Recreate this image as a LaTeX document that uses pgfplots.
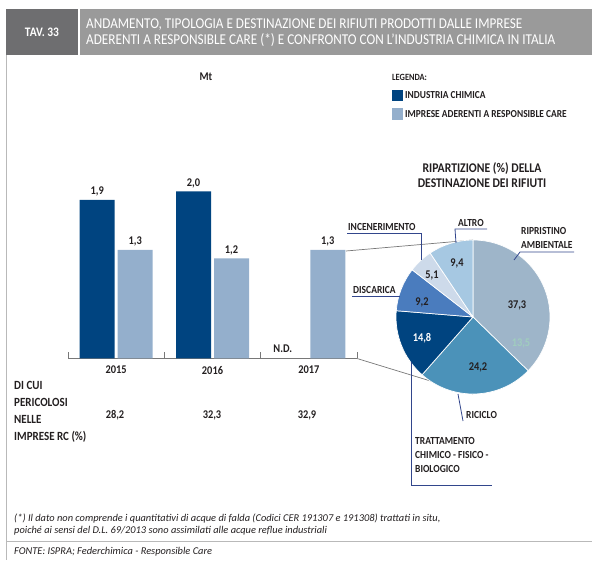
\documentclass[border=0pt]{standalone}
\usepackage{fontspec}
\setmainfont{Carlito}[FakeStretch=0.88]
\newfontfamily\fnfont{Carlito}
\usepackage{pgfplots}
\pgfplotsset{compat=1.18}
\definecolor{navy}{RGB}{0,68,128}
\definecolor{lightb}{RGB}{148,175,204}
\definecolor{txt}{RGB}{35,31,32}
\definecolor{axisgray}{RGB}{120,120,120}
\definecolor{tavgray}{RGB}{110,110,112}
\definecolor{titgray}{RGB}{154,154,154}
\definecolor{framegray}{RGB}{185,185,185}
\definecolor{lead}{RGB}{50,70,140}
\definecolor{cRip}{RGB}{158,181,201}
\definecolor{cRic}{RGB}{75,146,185}
\definecolor{cTra}{RGB}{0,68,128}
\definecolor{cDis}{RGB}{74,124,190}
\definecolor{cInc}{RGB}{205,218,234}
\definecolor{cAlt}{RGB}{166,200,226}
\newcommand\lab{\fontsize{10.8}{12.5}\selectfont\bfseries}
\newcommand\labb{\fontsize{11.8}{13}\selectfont\bfseries}
\newcommand\slice[3]{\fill[#1,draw=white,line width=0.7pt] (axis cs:0,0) -- ++({90-3.6*(#2)}:77pt) arc[start angle={90-3.6*(#2)}, delta angle={-3.6*(#3)}, radius=77pt] -- cycle;}
\begin{document}
\begin{tikzpicture}[x=1pt,y=1pt]
\path[use as bounding box] (0,0) rectangle (592,560);
\begin{scope}[shift={(0,560)}, yscale=-1]
% header
\fill[tavgray] (6,9) rectangle (78,55);
\fill[titgray] (80,9) rectangle (592,55);
\node[white, font=\fontsize{13}{15}\selectfont\bfseries] at (42,32) {TAV. 33};
\node[white, anchor=west, align=left, font=\fontsize{15}{16}\selectfont, inner sep=0pt] at (86,33) {ANDAMENTO, TIPOLOGIA E DESTINAZIONE DEI RIFIUTI PRODOTTI DALLE IMPRESE\\ADERENTI A RESPONSIBLE CARE (*) E CONFRONTO CON L'INDUSTRIA CHIMICA IN ITALIA};
% frame
\draw[framegray, line width=0.8pt] (6,55) -- (6,560);
\draw[framegray, line width=0.8pt] (6,541) -- (592,541);
% Mt
\node[txt, font=\labb] at (206,77) {Mt};
% legend
\node[txt, anchor=west, font=\fontsize{9.5}{10}\selectfont\bfseries, inner sep=0pt] at (392,77) {LEGENDA:};
\fill[navy] (392,90) rectangle (403,101);
\fill[lightb] (392,108) rectangle (403,120);
\node[txt, anchor=west, font=\fontsize{10.7}{11}\selectfont\bfseries, inner sep=0pt] at (405,95.5) {INDUSTRIA CHIMICA};
\node[txt, anchor=west, font=\fontsize{10.7}{11}\selectfont\bfseries, inner sep=0pt] at (405,114) {IMPRESE ADERENTI A RESPONSIBLE CARE};
% pie title
\node[txt, align=center, font=\fontsize{13.3}{15}\selectfont\bfseries] at (482,175.5) {RIPARTIZIONE (\%) DELLA\\DESTINAZIONE DEI RIFIUTI};
% connectors
\draw[axisgray, line width=0.7pt] (346,251) -- (473,240);
\draw[axisgray, line width=0.7pt] (357,358.5) -- (473,394);
% bottom table
\node[txt, anchor=west, align=left, font=\fontsize{12.5}{17}\selectfont\bfseries, inner sep=0pt] at (14,412) {DI CUI\\PERICOLOSI\\NELLE\\IMPRESE RC (\%)};
\node[txt, font=\labb] at (115,415) {28,2};
\node[txt, font=\labb] at (212,415) {32,3};
\node[txt, font=\labb] at (307,415) {32,9};
% footnotes
\node[txt, anchor=west, align=left, font=\fnfont\itshape\fontsize{10.4}{12}\selectfont, inner sep=0pt] at (14,525) {(*) Il dato non comprende i quantitativi di acque di falda (Codici CER 191307 e 191308) trattati in situ,\\poiché ai sensi del D.L. 69/2013 sono assimilati alle acque reflue industriali};
\node[txt, anchor=west, font=\fnfont\itshape\fontsize{10.4}{12}\selectfont, inner sep=0pt] at (14,552) {FONTE: ISPRA; Federchimica - Responsible Care};
\end{scope}

% bar chart
\begin{axis}[at={(68pt,201.5pt)}, anchor=south west, scale only axis,
  width=289pt, height=183.7pt, xmin=-0.5, xmax=2.5, ymin=0, ymax=2.2,
  ybar, bar width=35pt,
  axis x line=bottom, axis y line=none,
  axis line style={-, draw=axisgray, line width=1pt},
  xtick={-0.5,0.5,1.5,2.5}, xticklabels={},
  major tick length=6pt, tick align=inside,
  tick style={axisgray, line width=0.8pt},
  extra x ticks={0,1,2}, extra x tick labels={2015,2016,2017},
  extra x tick style={major tick length=0pt, tick label style={font=\labb, text=txt, yshift=-4pt}},
  clip=false,
  /pgf/number format/assume math mode=true,
  /pgf/number format/use comma, /pgf/number format/fixed,
  /pgf/number format/fixed zerofill, /pgf/number format/precision=1,
  nodes near coords,
  every node near coord/.append style={font=\labb, text=txt, yshift=0pt},
]
\addplot[fill=navy, draw=none, bar shift=-19pt] coordinates {(0,1.9) (1,2.0)};
\addplot[fill=lightb, draw=none, bar shift=19pt] coordinates {(0,1.3) (1,1.2) (2,1.3)};
\node[font=\labb, text=txt, anchor=south, yshift=2pt] at (axis cs:1.73,0) {N.D.};
\end{axis}

% pie chart
\begin{axis}[at={(396pt,166pt)}, anchor=south west, scale only axis,
  width=154pt, height=154pt, xmin=-1, xmax=1, ymin=-1, ymax=1,
  hide axis, clip=false]
\slice{cRip}{0}{37.3}
\slice{cRic}{37.3}{24.2}
\slice{cTra}{37.3+24.2}{14.8}
\slice{cDis}{37.3+24.2+14.8}{9.2}
\slice{cInc}{37.3+24.2+14.8+9.2}{5.1}
\slice{cAlt}{37.3+24.2+14.8+9.2+5.1}{9.4}
\end{axis}

\begin{scope}[shift={(0,560)}, yscale=-1]
% slice values
\node[txt, font=\labb] at (517,305) {37,3};
\node[font=\labb, text={rgb,255:red,160;green,205;blue,190}] at (521,343) {13,5};
\node[txt, font=\labb] at (478,367) {24,2};
\node[white, font=\labb] at (422,338) {14,8};
\node[txt, font=\labb] at (422,302) {9,2};
\node[txt, font=\labb] at (432,275) {5,1};
\node[txt, font=\labb] at (457,263) {9,4};
% labels with leaders
\node[txt, anchor=south west, font=\lab, inner sep=1pt] at (347,232) {INCENERIMENTO};
\draw[lead, line width=0.8pt] (347,233) -- (421,233) -- (421,260);
\node[txt, anchor=south west, font=\lab, inner sep=1pt] at (457,228) {ALTRO};
\draw[lead, line width=0.8pt] (487,229) -- (455,229) -- (456,243);
\node[txt, anchor=south west, align=left, font=\fontsize{10.8}{14}\selectfont\bfseries, inner sep=1pt] at (520,250) {RIPRISTINO\\AMBIENTALE};
\draw[lead, line width=0.8pt] (574,252) -- (520,252) -- (514,260);
\node[txt, anchor=south west, font=\lab, inner sep=1pt] at (352,295) {DISCARICA};
\draw[lead, line width=0.8pt] (352,296) -- (400,296);
\draw[lead, line width=0.8pt] (458,394) -- (463,421);
\node[txt, anchor=west, font=\lab, inner sep=1pt] at (465,415) {RICICLO};
\draw[lead, line width=0.8pt] (411,362) -- (411,485) -- (492,485);
\node[txt, anchor=north west, align=left, font=\fontsize{10.8}{14}\selectfont\bfseries, inner sep=1pt] at (414,436) {TRATTAMENTO\\CHIMICO - FISICO -\\BIOLOGICO};
\end{scope}
\end{tikzpicture}
\end{document}
